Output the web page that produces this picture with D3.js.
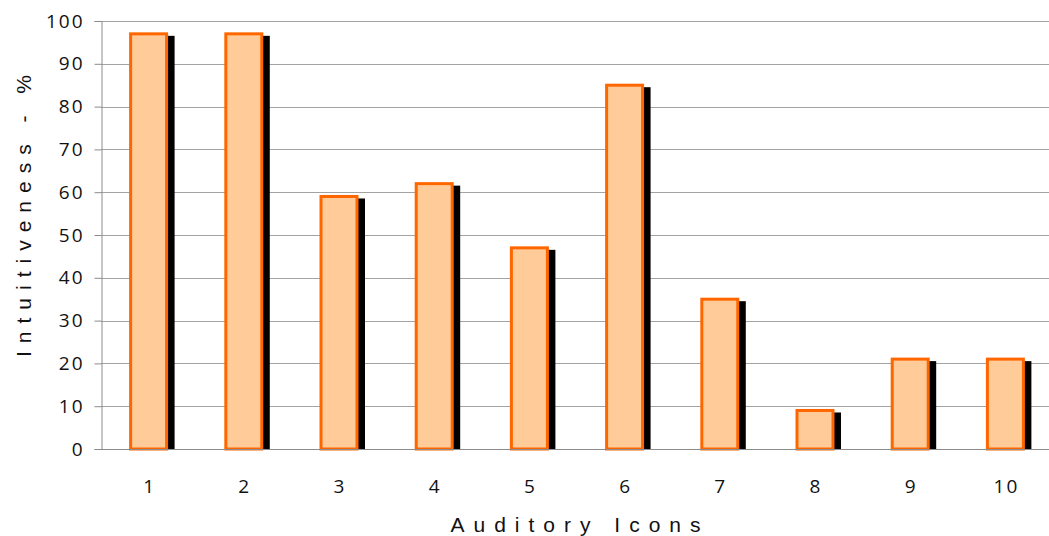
<!DOCTYPE html>
<html>
<head>
<meta charset="utf-8">
<script src="https://cdn.jsdelivr.net/npm/d3@7"></script>
<style>
  html, body { margin: 0; padding: 0; background: #fff; }
  svg { display: block; }
</style>
</head>
<body>
<svg id="chart" width="1049" height="536"></svg>
<script>
// Intuitiveness score per auditory icon
const icons = ["1", "2", "3", "4", "5", "6", "7", "8", "9", "10"];
const intuitiveness = [97, 97, 59, 62, 47, 85, 35, 9, 21, 21];
const yTicks = [0, 10, 20, 30, 40, 50, 60, 70, 80, 90, 100];

const svg = d3.select("#chart");
const W = 1049, H = 536;
const plot = { left: 101, right: 1053, top: 21, bottom: 449 };
const tickFont = "'Open Sans', 'Liberation Sans', sans-serif";
const titleFont = "'Liberation Sans', Arial, sans-serif";

const x = d3.scaleBand()
  .domain(icons)
  .range([plot.left, plot.right])
  .paddingInner(0.622)
  .paddingOuter(0.311);

const y = d3.scaleLinear()
  .domain([0, 100])
  .range([plot.bottom, plot.top]);

const rows = icons.map((c, i) => ({ c, v: intuitiveness[i] }));

// horizontal gridlines
svg.append("g")
  .selectAll("line")
  .data(yTicks.filter(d => d > 0))
  .join("line")
  .attr("x1", plot.left)
  .attr("x2", W)
  .attr("y1", d => Math.round(y(d)) + 0.5)
  .attr("y2", d => Math.round(y(d)) + 0.5)
  .attr("stroke", "#a3a3a3")
  .attr("stroke-width", 1);

// y axis
const yAxis = svg.append("g")
  .attr("transform", `translate(${plot.left + 0.5},0)`)
  .call(d3.axisLeft(y).tickValues(yTicks).tickSize(7).tickPadding(10));
yAxis.select(".domain").attr("stroke", "#8c8c8c");
yAxis.selectAll(".tick line").attr("stroke", "#8c8c8c");
yAxis.selectAll(".tick text")
  .attr("font-family", tickFont)
  .attr("font-size", 19)
  .attr("letter-spacing", "2px")
  .attr("fill", "#111");

// drop shadows behind the bars
svg.append("g")
  .selectAll("rect")
  .data(rows)
  .join("rect")
  .attr("x", d => x(d.c) + 8)
  .attr("y", d => y(d.v) + 2)
  .attr("width", x.bandwidth())
  .attr("height", d => y(0) - y(d.v) - 2)
  .attr("fill", "#000");

// bars
svg.append("g")
  .selectAll("rect")
  .data(rows)
  .join("rect")
  .attr("x", d => x(d.c))
  .attr("y", d => y(d.v))
  .attr("width", x.bandwidth())
  .attr("height", d => y(0) - y(d.v))
  .attr("fill", "#ffcc99")
  .attr("stroke", "#ff6600")
  .attr("stroke-width", 3);

// x axis
const xAxis = svg.append("g")
  .attr("transform", `translate(0,${y(0) + 0.5})`)
  .call(d3.axisBottom(x).tickSize(0));
xAxis.select(".domain").attr("stroke", "#8c8c8c").attr("d", `M${plot.left},0H${W}`);
xAxis.selectAll(".tick text")
  .attr("font-family", tickFont)
  .attr("font-size", 19)
  .attr("letter-spacing", "2px")
  .attr("dx", 1)
  .attr("dy", 0)
  .attr("y", 43.5)
  .attr("fill", "#111");

// axis titles
svg.append("text")
  .attr("x", 580)
  .attr("y", 532)
  .attr("text-anchor", "middle")
  .attr("font-family", titleFont)
  .attr("font-size", 21)
  .attr("letter-spacing", "9px")
  .attr("fill", "#111")
  .text("Auditory Icons");

svg.append("text")
  .attr("transform", "translate(31,212) rotate(-90)")
  .attr("text-anchor", "middle")
  .attr("font-family", titleFont)
  .attr("font-size", 21)
  .attr("letter-spacing", "8px")
  .attr("fill", "#111")
  .text("Intuitiveness - %");
</script>
</body>
</html>
